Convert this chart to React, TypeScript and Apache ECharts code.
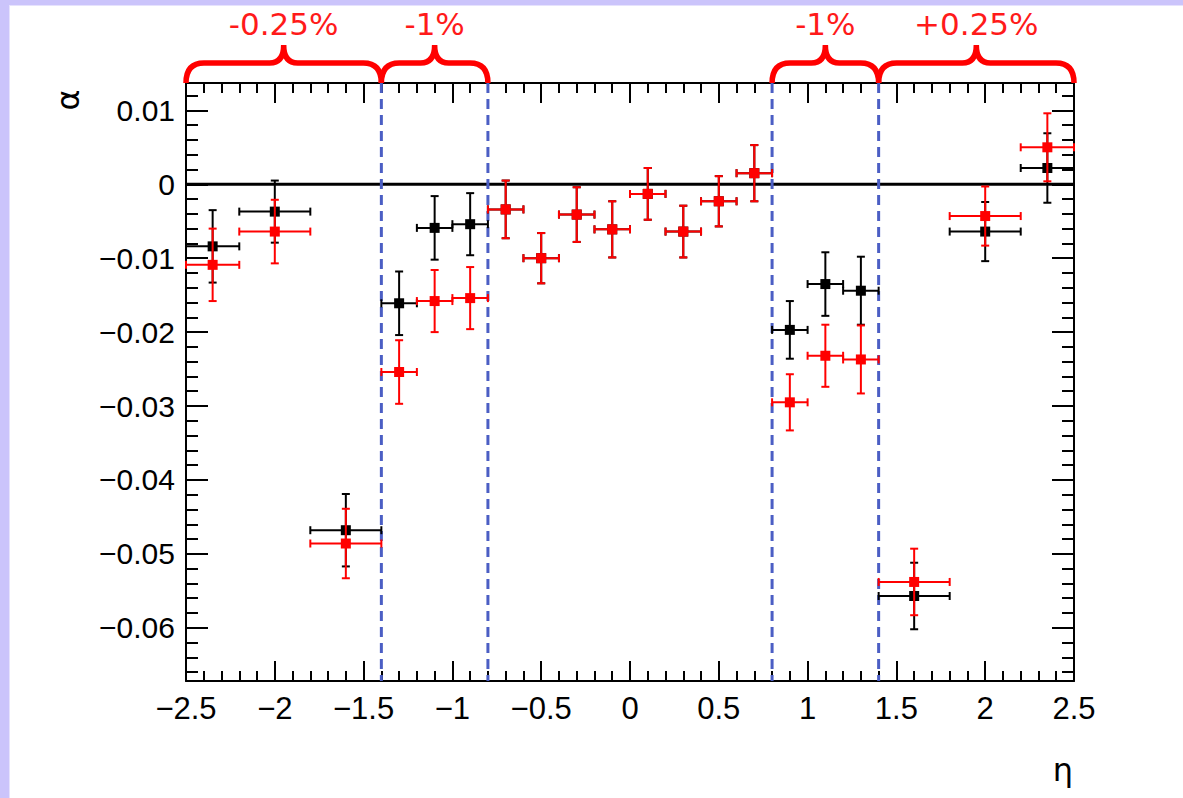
import React, { useEffect, useRef } from "react";
import * as echarts from "echarts";

// eta bin centres and half widths
const etaCenters = [-2.35, -2.0, -1.6, -1.3, -1.1, -0.9, -0.7, -0.5, -0.3, -0.1, 0.1, 0.3, 0.5, 0.7, 0.9, 1.1, 1.3, 1.6, 2.0, 2.35];
const etaHalfWidths = [0.15, 0.2, 0.2, 0.1, 0.1, 0.1, 0.1, 0.1, 0.1, 0.1, 0.1, 0.1, 0.1, 0.1, 0.1, 0.1, 0.1, 0.2, 0.2, 0.15];

// black series
const alphaBlack = [-0.0084, -0.0037, -0.0468, -0.0161, -0.0059, -0.0054, -0.0034, -0.0100, -0.0041, -0.0061, -0.0013, -0.0064, -0.0023, 0.0015, -0.0197, -0.0135, -0.0144, -0.0557, -0.0064, 0.0022];
const errBlack = [0.0049, 0.0042, 0.0049, 0.0043, 0.0043, 0.0042, 0.0039, 0.0034, 0.0037, 0.0038, 0.0035, 0.0035, 0.0034, 0.0038, 0.0039, 0.0043, 0.0046, 0.0045, 0.0040, 0.0047];

// red series
const alphaRed = [-0.0109, -0.0064, -0.0486, -0.0254, -0.0158, -0.0154, -0.0034, -0.0100, -0.0041, -0.0061, -0.0013, -0.0064, -0.0023, 0.0015, -0.0295, -0.0232, -0.0237, -0.0538, -0.0043, 0.0050];
const errRed = [0.0049, 0.0043, 0.0047, 0.0043, 0.0042, 0.0042, 0.0039, 0.0034, 0.0037, 0.0038, 0.0035, 0.0035, 0.0034, 0.0038, 0.0038, 0.0042, 0.0046, 0.0045, 0.0040, 0.0046];

// region boundaries and annotations
const regionEdges = [-1.4, -0.8, 0.8, 1.4];
const braceStarts = [-2.5, -1.4, 0.8, 1.4];
const braceEnds = [-1.4, -0.8, 1.4, 2.5];
const braceLabels = ["-0.25%", "-1%", "-1%", "+0.25%"];

const X_MIN = -2.5;
const X_MAX = 2.5;
const Y_MIN = -0.0672;
const Y_MAX = 0.0137;

const fmtX = (v: number) => {
  const s = Number.isInteger(v) ? String(v) : String(Math.round(v * 10) / 10);
  return s.replace("-", "\u2212");
};
const fmtY = (v: number) => {
  const k = v * 100;
  if (Math.abs(k - Math.round(k)) > 1e-6) return "";
  const r = Math.round(k);
  if (r === 0) return "0";
  return (r / 100).toFixed(2).replace("-", "\u2212");
};

function errorRenderer(color: string) {
  return (params: any, api: any) => {
    const x = api.value(0);
    const y = api.value(1);
    const xe = api.value(2);
    const ye = api.value(3);
    const c = api.coord([x, y]);
    const l = api.coord([x - xe, y]);
    const r = api.coord([x + xe, y]);
    const t = api.coord([x, y + ye]);
    const b = api.coord([x, y - ye]);
    const cap = 4;
    const ls = { stroke: color, lineWidth: 2 };
    const sq = 5;
    return {
      type: "group",
      children: [
        { type: "line", shape: { x1: l[0], y1: c[1], x2: r[0], y2: c[1] }, style: ls },
        { type: "line", shape: { x1: c[0], y1: t[1], x2: c[0], y2: b[1] }, style: ls },
        { type: "line", shape: { x1: c[0] - cap, y1: t[1], x2: c[0] + cap, y2: t[1] }, style: ls },
        { type: "line", shape: { x1: c[0] - cap, y1: b[1], x2: c[0] + cap, y2: b[1] }, style: ls },
        { type: "line", shape: { x1: l[0], y1: c[1] - cap, x2: l[0], y2: c[1] + cap }, style: ls },
        { type: "line", shape: { x1: r[0], y1: c[1] - cap, x2: r[0], y2: c[1] + cap }, style: ls },
        { type: "rect", shape: { x: c[0] - sq, y: c[1] - sq, width: sq * 2, height: sq * 2 }, style: { fill: color } },
      ],
    };
  };
}

const braceRender = (params: any, api: any) => {
  const x0 = api.coord([api.value(0), 0])[0];
  const x1 = api.coord([api.value(1), 0])[0];
  const idx = api.value(2);
  const top = params.coordSys.y;
  const xm = (x0 + x1) / 2;
  const yh = top - 20;
  const yt = top - 38;
  const r = 18;
  const rt = 14;
  const d = `M${x0},${top} Q${x0},${yh} ${x0 + r},${yh} L${xm - rt},${yh} Q${xm},${yh} ${xm},${yt} Q${xm},${yh} ${xm + rt},${yh} L${x1 - r},${yh} Q${x1},${yh} ${x1},${top}`;
  return {
    type: "group",
    children: [
      { type: "path", shape: { pathData: d }, style: { stroke: "#ff0000", lineWidth: 5.5, fill: "none" } },
      {
        type: "text",
        x: xm,
        y: top - 59,
        style: {
          text: braceLabels[idx],
          fill: "#ff1a1a",
          font: '31px "DejaVu Sans"',
          align: "center",
          verticalAlign: "middle",
        },
      },
    ],
  };
};

const edgeRender = (params: any, api: any) => {
  const x = api.coord([api.value(0), 0])[0];
  const cs = params.coordSys;
  return {
    type: "line",
    shape: { x1: x, y1: cs.y, x2: x, y2: cs.y + cs.height },
    style: { stroke: "#4b5ec4", lineWidth: 3, lineDash: [10, 6] },
  };
};

const labelFont = "Liberation Sans";

export default function App() {
  const ref = useRef<HTMLDivElement>(null);
  useEffect(() => {
    document.body.style.margin = "0";
    document.body.style.overflow = "hidden";
    if (!ref.current) return;
    const chart = echarts.init(ref.current, undefined, { renderer: "svg" });
    const xBase = {
      type: "value",
      min: X_MIN,
      max: X_MAX,
      interval: 0.5,
      splitLine: { show: false },
      axisLine: { show: true, onZero: false, lineStyle: { color: "#000", width: 2 } },
      axisTick: { show: true, inside: true, length: 20, lineStyle: { color: "#000", width: 2 } },
      minorTick: { show: true, splitNumber: 5, length: 10, lineStyle: { color: "#000", width: 2 } },
    };
    const yBase = {
      type: "value",
      min: Y_MIN,
      max: Y_MAX,
      splitNumber: 8,
      splitLine: { show: false },
      axisLine: { show: true, onZero: false, lineStyle: { color: "#000", width: 2 } },
      axisTick: { show: true, inside: true, length: 22, lineStyle: { color: "#000", width: 2 } },
      minorTick: { show: true, splitNumber: 5, length: 12, lineStyle: { color: "#000", width: 2 } },
    };
    chart.setOption({
      animation: false,
      backgroundColor: "#ffffff",
      grid: { left: 186, top: 83, width: 888, height: 598, containLabel: false },
      xAxis: [
        {
          ...xBase,
          position: "bottom",
          axisLabel: {
            show: true,
            color: "#000",
            fontFamily: labelFont,
            fontSize: 31,
            margin: 12,
            formatter: fmtX,
          },
        },
        { ...xBase, position: "top", axisLabel: { show: false } },
      ],
      yAxis: [
        {
          ...yBase,
          position: "left",
          axisLabel: {
            show: true,
            color: "#000",
            fontFamily: labelFont,
            fontSize: 30,
            margin: 11,
            formatter: fmtY,
          },
        },
        { ...yBase, position: "right", axisLabel: { show: false } },
      ],
      graphic: [
        { type: "rect", shape: { x: 0, y: 0, width: 1183, height: 5 }, style: { fill: "#cbc4fb" }, z: 100 },
        { type: "rect", shape: { x: 0, y: 0, width: 9, height: 798 }, style: { fill: "#cbc4fb" }, z: 100 },
        { type: "rect", shape: { x: 9, y: 5, width: 1, height: 793 }, style: { fill: "#e6e2fd" }, z: 100 },
        { type: "rect", shape: { x: 9, y: 5, width: 1174, height: 1 }, style: { fill: "#e6e2fd" }, z: 100 },
        {
          type: "text",
          x: 68,
          y: 100,
          rotation: Math.PI / 2,
          style: { text: "\u03b1", fill: "#000", font: '32px "DejaVu Sans"', align: "center", verticalAlign: "middle" },
        },
        {
          type: "text",
          x: 1063,
          y: 770,
          style: { text: "\u03b7", fill: "#000", font: '32px "DejaVu Sans"', align: "center", verticalAlign: "middle" },
        },
      ],
      series: [
        {
          type: "line",
          data: [[X_MIN, 0], [X_MAX, 0]],
          symbol: "none",
          lineStyle: { color: "#000", width: 3 },
          z: 2,
          silent: true,
        },
        {
          type: "custom",
          renderItem: edgeRender,
          data: regionEdges.map((v) => [v, 0]),
          encode: { x: 0, y: 1 },
          clip: false,
          z: 3,
          silent: true,
        },
        {
          type: "custom",
          renderItem: errorRenderer("#000000"),
          data: etaCenters.map((x, i) => [x, alphaBlack[i], etaHalfWidths[i], errBlack[i]]),
          encode: { x: 0, y: 1 },
          clip: false,
          z: 4,
          silent: true,
        },
        {
          type: "custom",
          renderItem: errorRenderer("#ff0000"),
          data: etaCenters.map((x, i) => [x, alphaRed[i], etaHalfWidths[i], errRed[i]]),
          encode: { x: 0, y: 1 },
          clip: false,
          z: 5,
          silent: true,
        },
        {
          type: "custom",
          renderItem: braceRender,
          data: braceStarts.map((s, i) => [s, braceEnds[i], i]),
          encode: { x: [0, 1] },
          clip: false,
          z: 6,
          silent: true,
        },
      ],
    });
    return () => chart.dispose();
  }, []);
  return <div ref={ref} style={{ width: 1183, height: 798 }} />;
}
